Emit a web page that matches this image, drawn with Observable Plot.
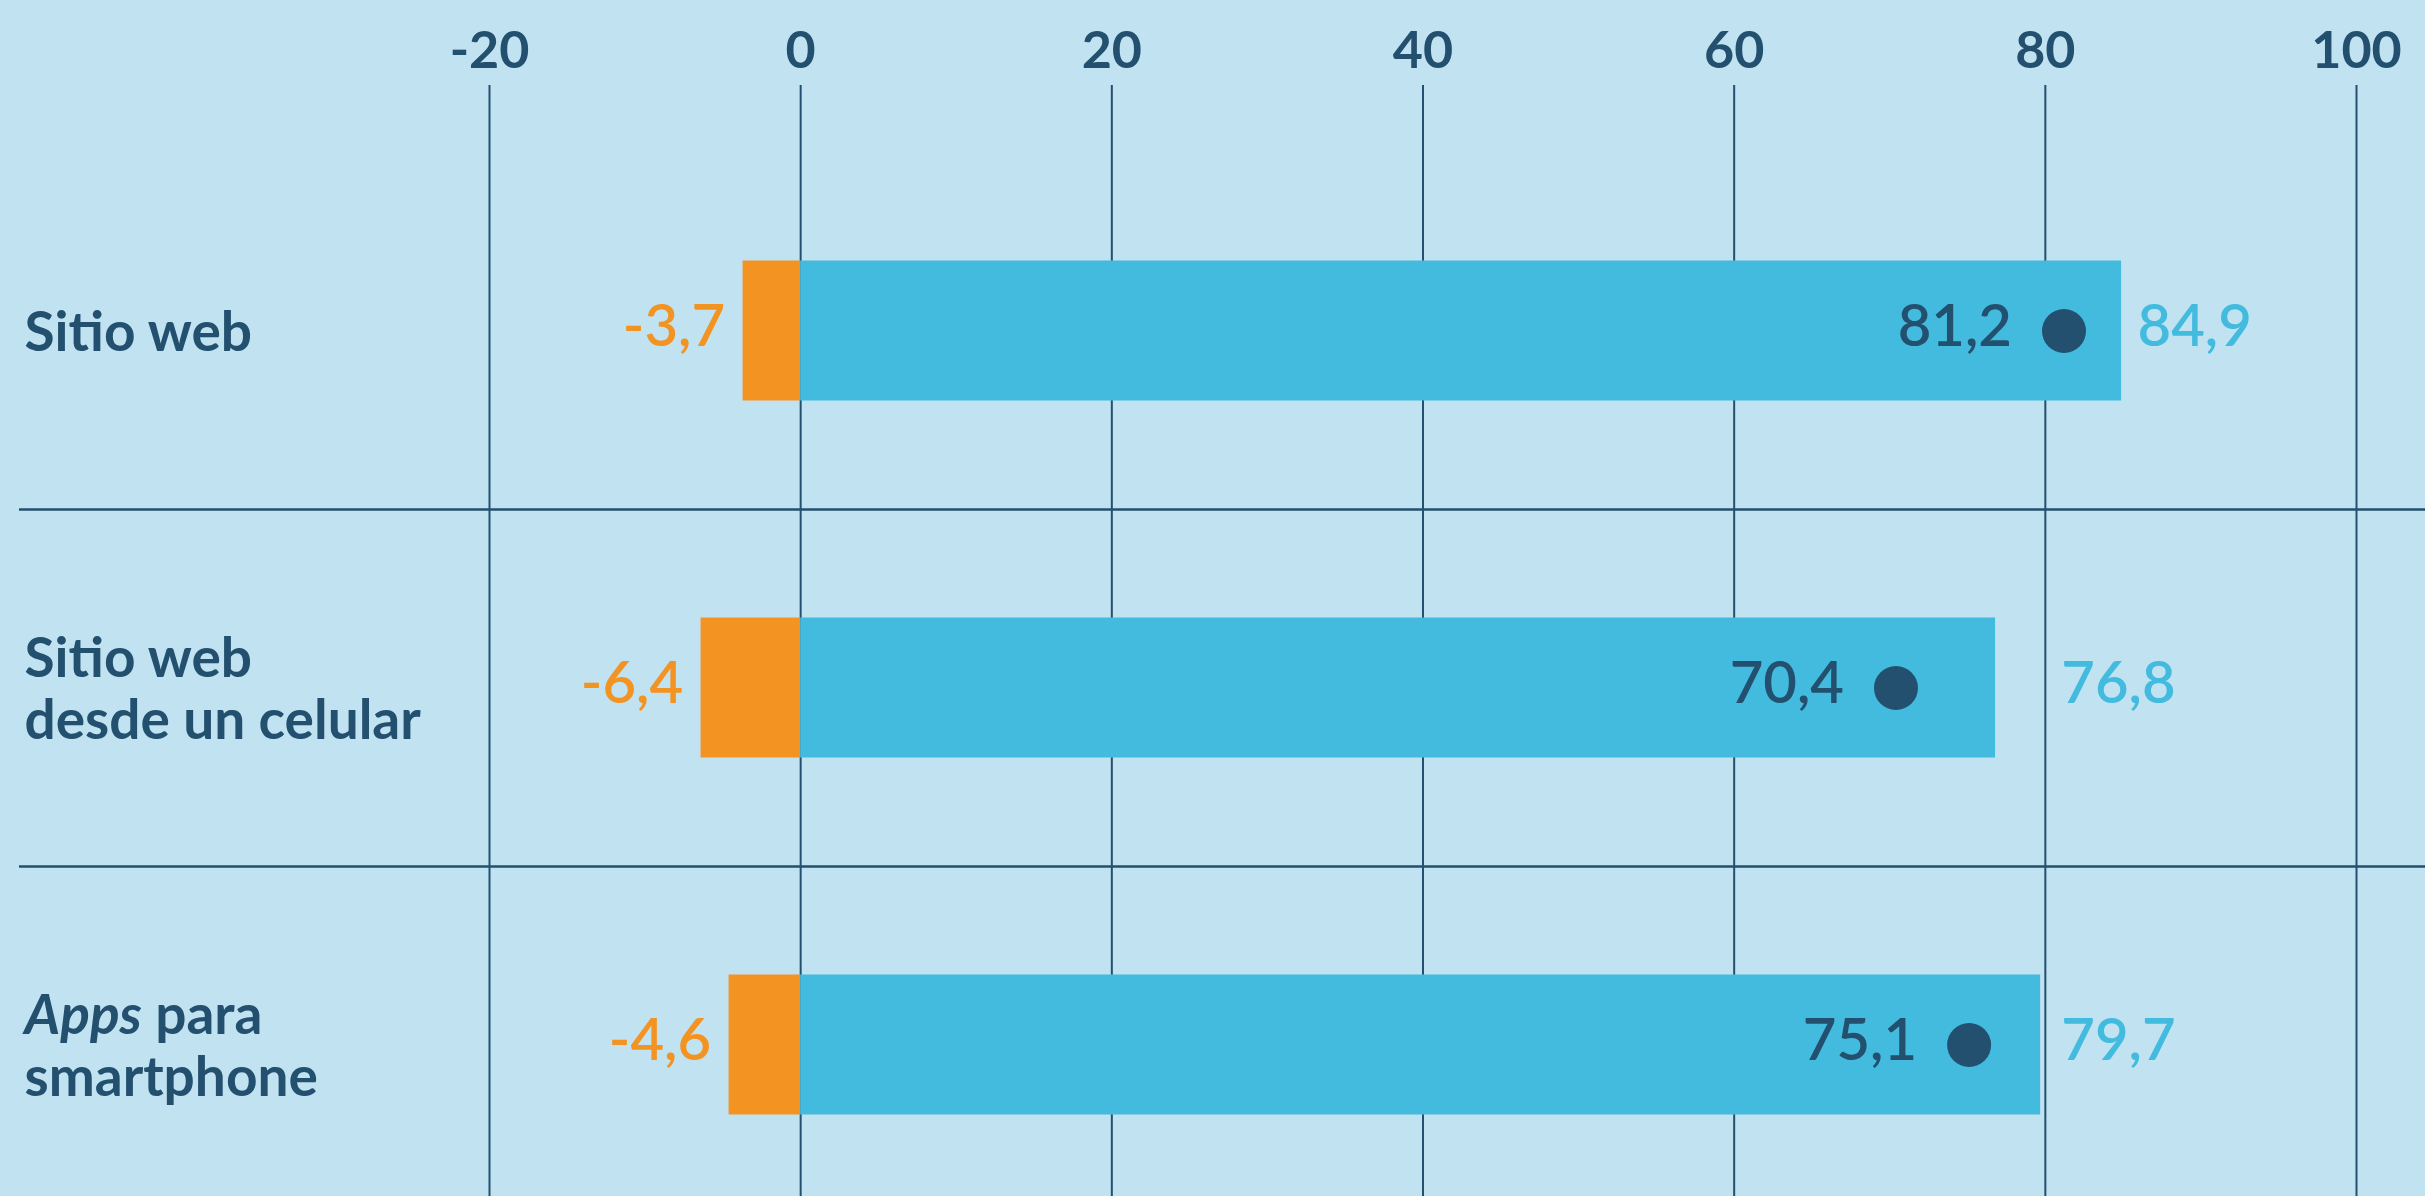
<!DOCTYPE html>
<html><head><meta charset="utf-8">
<script src="https://cdn.jsdelivr.net/npm/d3@7"></script>
<script src="https://cdn.jsdelivr.net/npm/@observablehq/plot@0.6"></script>
<style>
html,body{margin:0;padding:0;background:#C1E2F1;overflow:hidden;}
</style></head><body><div id="chart"></div>
<script>
// ---- data ----
const categories = ["Sitio web", "Sitio web\ndesde un celular", "Apps para\nsmartphone"];
const negativeValues = [-3.7, -6.4, -4.6];
const positiveValues = [84.9, 76.8, 79.7];
const netValues = [81.2, 70.4, 75.1];
const xTicks = [-20, 0, 20, 40, 60, 80, 100];

const data = categories.map((c, i) => ({cat: c, neg: negativeValues[i], pos: positiveValues[i], net: netValues[i]}));

// ---- layout ----
const W = 2425, H = 1196;
const mt = 151.5, mb = -26.5, ml = 489, mr = 69;
const step = (H - mt - mb) / categories.length;
const barH = 140;
const inset = (step - barH) / 2;
const labelMinX = 80; // right-hand labels never start left of the 80 gridline
const fmt = v => v.toFixed(1).replace(".", ",");
const dark = "#23506E", blue = "#43BBDE", orange = "#F39322", bg = "#C1E2F1";
const font = "Lato, 'Open Sans', sans-serif";

const chart = Plot.plot({
  width: W, height: H,
  marginTop: mt, marginBottom: mb, marginLeft: ml, marginRight: mr,
  style: {background: bg, fontFamily: font},
  x: {domain: [-20, 100], axis: null, label: null},
  y: {domain: categories, padding: 0, axis: null, label: null},
  marks: [
    // gridlines
    Plot.ruleX(xTicks, {x: d => d, stroke: dark, strokeWidth: 2, insetTop: -(mt - 85)}),
    // row separators
    Plot.ruleY(categories.slice(1), {y: d => d, dy: -step / 2, stroke: dark, strokeWidth: 2.5, insetLeft: -(ml - 19), insetRight: -mr}),
    // bars
    Plot.barX(data, {y: "cat", x1: 0, x2: "neg", fill: orange, insetTop: inset, insetBottom: inset}),
    Plot.barX(data, {y: "cat", x1: 0, x2: "pos", fill: blue, insetTop: inset, insetBottom: inset}),
    // net dots
    Plot.dot(data, {x: "net", y: "cat", r: 22, fill: dark}),
    // tick labels
    Plot.text(xTicks, {x: d => d, text: d => String(d), frameAnchor: "top", lineAnchor: "middle", dy: -(mt - 51), fill: dark, fontSize: 52, fontWeight: 700}),
    // category labels
    Plot.text(data, {y: "cat", text: "cat", frameAnchor: "left", textAnchor: "start", dx: -(ml - 24), fill: dark, fontSize: 55, fontWeight: 700, lineHeight: 1.12}),
    // value labels
    Plot.text(data, {x: "net", y: "cat", text: d => fmt(d.net), textAnchor: "end", dx: -52, dy: -4, fill: dark, fontSize: 58, fontWeight: 600}),
    Plot.text(data, {x: "neg", y: "cat", text: d => fmt(d.neg), textAnchor: "end", dx: -18, dy: -4, fill: orange, fontSize: 58, fontWeight: 600}),
    Plot.text(data, {x: d => Math.max(d.pos, labelMinX), y: "cat", text: d => fmt(d.pos), textAnchor: "start", dx: 16, dy: -4, fill: blue, fontSize: 58, fontWeight: 600})
  ]
});

// italic "Apps"
d3.select(chart).selectAll("tspan, text").each(function() {
  if (this.childElementCount === 0 && this.textContent === "Apps para") {
    this.textContent = "";
    const s = d3.select(this);
    s.append("tspan").attr("font-style", "italic").text("Apps");
    s.append("tspan").text(" para");
  }
});

document.getElementById("chart").appendChild(chart);
</script>
</body></html>
